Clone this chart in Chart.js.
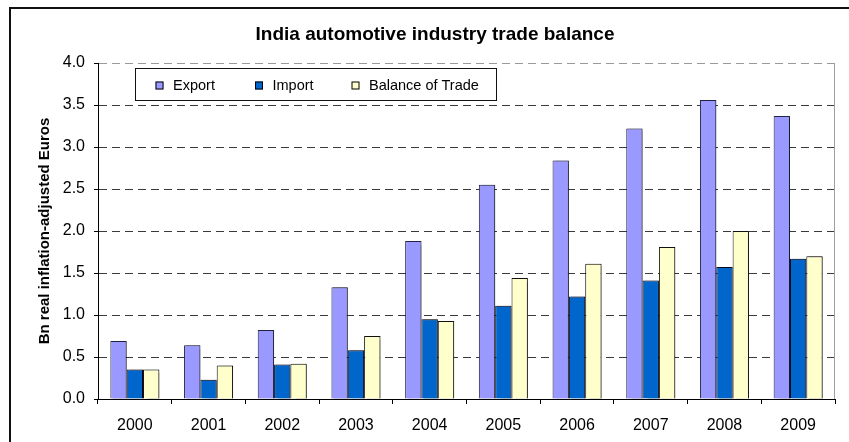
<!DOCTYPE html>
<html>
<head>
<meta charset="utf-8">
<title>India automotive industry trade balance</title>
<script src="https://cdn.jsdelivr.net/npm/chart.js@4.4.1/dist/chart.umd.min.js"></script>
<style>
  html, body { margin: 0; padding: 0; background: #ffffff; }
  #wrap { width: 849px; height: 442px; position: relative; }
</style>
</head>
<body>
<div id="wrap"><canvas id="chart" width="849" height="442"></canvas></div>
<script>
// Trade figures, bn real inflation-adjusted euros
const years = ['2000', '2001', '2002', '2003', '2004', '2005', '2006', '2007', '2008', '2009'];
const exportValues = [0.69, 0.64, 0.82, 1.33, 1.88, 2.55, 2.84, 3.22, 3.56, 3.37];
const importValues = [0.35, 0.23, 0.41, 0.58, 0.95, 1.11, 1.22, 1.41, 1.57, 1.67];
const balanceValues = [0.35, 0.40, 0.42, 0.75, 0.93, 1.44, 1.61, 1.81, 2.00, 1.70];
const seriesNames = ['Export', 'Import', 'Balance of Trade'];
const yTicks = { min: 0, max: 4, step: 0.5 };

const FONT = 'Arial, "Liberation Sans", Helvetica, sans-serif';

// Outer frame around the whole figure
const framePlugin = {
  id: 'frame',
  beforeDraw(chart) {
    const ctx = chart.ctx;
    ctx.save();
    ctx.fillStyle = '#ffffff';
    ctx.fillRect(0, 0, chart.width, chart.height);
    ctx.strokeStyle = '#111111';
    ctx.lineWidth = 2;
    ctx.strokeRect(10, 8, chart.width + 20, chart.height + 20);
    ctx.restore();
  }
};

// Soft drop shadow behind the bars
const barShadow = {
  id: 'barShadow',
  beforeDatasetsDraw(chart) {
    const ctx = chart.ctx;
    ctx.save();
    ctx.shadowColor = 'rgba(0,0,0,0.35)';
    ctx.shadowOffsetX = 2;
    ctx.shadowOffsetY = 0;
    ctx.shadowBlur = 1;
  },
  afterDatasetsDraw(chart) {
    chart.ctx.restore();
  }
};

// Light right-hand edge of the plot area
const plotEdge = {
  id: 'plotEdge',
  beforeDatasetsDraw(chart) {
    const { ctx, chartArea: a } = chart;
    ctx.save();
    ctx.strokeStyle = '#a0a0a0';
    ctx.lineWidth = 1;
    ctx.beginPath();
    ctx.moveTo(a.right - 0.5, a.top);
    ctx.lineTo(a.right - 0.5, a.bottom);
    ctx.stroke();
    ctx.restore();
  }
};

// Boxed legend inside the plot, laid out in a single row
const boxedLegend = {
  id: 'boxedLegend',
  afterDraw(chart) {
    const ctx = chart.ctx;
    const box = { x: 135.5, y: 68.5, w: 361, h: 32 };
    const itemX = [155.5, 255, 351.5];
    const cy = 85.5;
    ctx.save();
    ctx.fillStyle = '#ffffff';
    ctx.fillRect(box.x, box.y, box.w, box.h);
    ctx.strokeStyle = '#111111';
    ctx.lineWidth = 1;
    ctx.strokeRect(box.x, box.y, box.w, box.h);
    ctx.font = '14.5px ' + FONT;
    ctx.textBaseline = 'middle';
    ctx.textAlign = 'left';
    chart.data.datasets.forEach((ds, i) => {
      const x = itemX[i];
      ctx.fillStyle = ds.backgroundColor;
      ctx.fillRect(x, cy - 4, 8, 8);
      ctx.strokeStyle = '#000000';
      ctx.strokeRect(x + 0.5, cy - 3.5, 7, 7);
      ctx.fillStyle = '#000000';
      ctx.fillText(ds.label, x + 17.5, cy + 0.5);
    });
    ctx.restore();
  }
};

const ctx = document.getElementById('chart').getContext('2d');
new Chart(ctx, {
  type: 'bar',
  data: {
    labels: years,
    datasets: [
      { label: seriesNames[0], data: exportValues, backgroundColor: '#9999FF', borderColor: '#222244', borderWidth: 1 },
      { label: seriesNames[1], data: importValues, backgroundColor: '#0066CC', borderColor: '#0a0a1a', borderWidth: 1 },
      { label: seriesNames[2], data: balanceValues, backgroundColor: '#FFFFCC', borderColor: '#111111', borderWidth: 1 }
    ]
  },
  options: {
    responsive: false,
    animation: false,
    devicePixelRatio: 1,
    layout: { padding: { left: 35, right: 14, top: 0, bottom: 0 } },
    datasets: {
      bar: { categoryPercentage: 0.665, barPercentage: 1.0 }
    },
    plugins: {
      legend: { display: false },
      tooltip: { enabled: false },
      title: {
        display: true,
        text: 'India automotive industry trade balance',
        color: '#000000',
        font: { family: FONT, size: 19, weight: 'bold' },
        padding: { top: 23, bottom: 17.2 }
      }
    },
    scales: {
      x: {
        offset: true,
        grid: {
          offset: true,
          drawOnChartArea: false,
          color: '#000000',
          tickLength: 5
        },
        border: { color: '#000000', width: 1 },
        ticks: {
          color: '#000000',
          font: { family: FONT, size: 16 },
          padding: 12,
          maxRotation: 0
        },
        afterFit(scale) { scale.height = 43; }
      },
      y: {
        min: yTicks.min,
        max: yTicks.max,
        grid: {
          color: (c) => {
            if (c.tick && c.tick.value === yTicks.max) return '#9a9a9a';
            if (c.tick && c.tick.value === yTicks.min) return 'rgba(0,0,0,0)';
            return '#3a3a3a';
          },
          tickColor: '#000000',
          tickLength: 4
        },
        border: { color: '#000000', width: 1, dash: [8, 5] },
        ticks: {
          stepSize: yTicks.step,
          color: '#000000',
          font: { family: FONT, size: 16 },
          padding: 9,
          callback: (v) => Number(v).toFixed(1)
        },
        title: {
          display: true,
          text: 'Bn real inflation-adjusted Euros',
          color: '#000000',
          font: { family: FONT, size: 15, weight: 'bold' },
          padding: { top: 0.5, bottom: 0 }
        },
        afterFit(scale) { scale.width = 63; }
      }
    }
  },
  plugins: [framePlugin, plotEdge, barShadow, boxedLegend]
});
</script>
</body>
</html>
